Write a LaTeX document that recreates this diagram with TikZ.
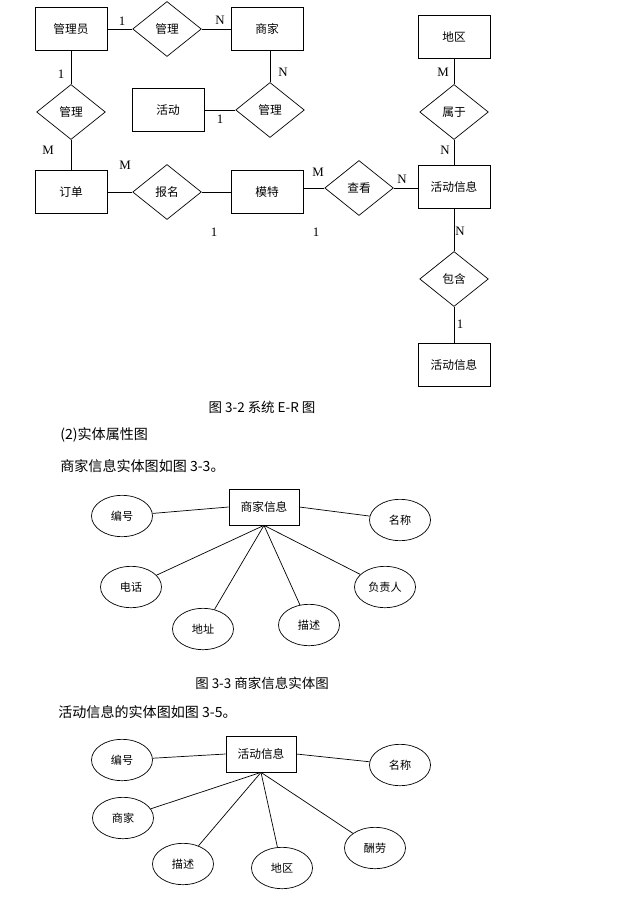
\documentclass[tikz,border=0pt]{standalone}
\usepackage{fontspec}
\setmainfont{Noto Sans CJK SC}
\newfontfamily\cardfont{Liberation Serif}
\usetikzlibrary{shapes.geometric}

\tikzset{
  ent/.style={draw, rectangle, minimum width=2.16cm, minimum height=1.29cm, inner sep=0pt, font=\fontsize{10}{12}\selectfont},
  rel/.style={draw, diamond, minimum width=2.06cm, minimum height=1.65cm, inner sep=0pt, font=\fontsize{10}{12}\selectfont},
  card/.style={inner sep=0pt, font=\cardfont\fontsize{11}{13}\selectfont},
  sub/.style={draw, rectangle, minimum width=2.1cm, minimum height=1.08cm, inner sep=0pt, font=\fontsize{10}{12}\selectfont},
  attr/.style={draw, ellipse, minimum width=1.83cm, minimum height=1.24cm, inner sep=0pt, font=\fontsize{9.5}{11}\selectfont},
  txt/.style={anchor=west, inner sep=0pt, font=\fontsize{12}{14}\selectfont},
  figcap/.style={inner sep=0pt, font=\fontsize{11.5}{13}\selectfont},
}

\begin{document}
\begin{tikzpicture}[x=0.03cm, y=-0.03cm, line width=0.6pt]
\useasboundingbox (0,0) rectangle (616,900);

% E-R diagram
\node [ent] (admin) at (71,29) {管理员};
\node [rel] (mgA) at (167,29) {管理};
\node [ent] (shop) at (267,29) {商家};
\node [rel] (mgB) at (270,110) {管理};
\node [ent] (act) at (168,110) {活动};
\node [rel] (mgC) at (71,112) {管理};
\node [ent] (order) at (71,192) {订单};
\node [rel] (sign) at (167,192) {报名};
\node [ent] (model) at (267,192) {模特};
\node [rel] (view) at (359,188) {查看};
\node [ent] (info) at (454,187) {活动信息};
\node [ent] (area) at (454,37) {地区};
\node [rel] (belong) at (454,112) {属于};
\node [rel] (incl) at (454,279) {包含};
\node [ent] (info2) at (454,365) {活动信息};

\draw (admin.east) -- (mgA.west);
\draw (mgA.east) -- (shop.west);
\draw (shop.south -| mgB.north) -- (mgB.north);
\draw (act.east) -- (mgB.west);
\draw (admin.south) -- (mgC.north);
\draw (mgC.south) -- (order.north);
\draw (order.east) -- (sign.west);
\draw (sign.east) -- (model.west);
\draw (model.east |- view.west) -- (view.west);
\draw (view.east) -- (view.east -| info.west);
\draw (area.south) -- (belong.north);
\draw (belong.south) -- (info.north);
\draw (info.south) -- (incl.north);
\draw (incl.south) -- (info2.north);

\node [card] (c1) at (122,21) {1};
\node [card] (c2) at (220,20) {N};
\node [card] (c3) at (283,72) {N};
\node [card] (c4) at (220,119) {1};
\node [card] (c5) at (61,74) {1};
\node [card] (c6) at (48,150) {M};
\node [card] (c7) at (125,165) {M};
\node [card] (c8) at (214,232) {1};
\node [card] (c9) at (316,232) {1};
\node [card] (c10) at (318,172) {M};
\node [card] (c11) at (402,179) {N};
\node [card] (c12) at (443,72) {M};
\node [card] (c13) at (445,150) {N};
\node [card] (c14) at (460,231) {N};
\node [card] (c15) at (460,324) {1};

\node [figcap] (capA) at (262,407) {图 3-2 系统 E-R 图};
\node [txt] (head) at (60,435) {(2)实体属性图};
\node [txt] (textA) at (60,466) {商家信息实体图如图 3-3。};

% merchant entity
\node [sub] (shopinfo) at (264,507) {商家信息};
\node [attr] (sNo) at (122,516) {编号};
\node [attr] (sName) at (400,520) {名称};
\node [attr] (sTel) at (131,587) {电话};
\node [attr] (sAddr) at (203,629) {地址};
\node [attr] (sDesc) at (309,625) {描述};
\node [attr] (sBoss) at (385,587) {负责人};

\draw (sNo) -- (shopinfo.west);
\draw (shopinfo.east) -- (sName);
\draw (shopinfo.south) -- (sTel);
\draw (shopinfo.south) -- (sAddr);
\draw (shopinfo.south) -- (sDesc);
\draw (shopinfo.south) -- (sBoss);

\node [figcap] (capB) at (262,683) {图 3-3 商家信息实体图};
\node [txt] (textB) at (58,712) {活动信息的实体图如图 3-5。};

% activity entity
\node [sub] (actinfo) at (261,754) {活动信息};
\node [attr] (aNo) at (122,760) {编号};
\node [attr] (aName) at (400,765) {名称};
\node [attr] (aShop) at (123,818) {商家};
\node [attr] (aDesc) at (183,864) {描述};
\node [attr] (aArea) at (282,868) {地区};
\node [attr] (aPay) at (375,848) {酬劳};

\draw (aNo) -- (actinfo.west);
\draw (actinfo.east) -- (aName);
\draw (actinfo.south) -- (aShop);
\draw (actinfo.south) -- (aDesc);
\draw (actinfo.south) -- (aArea);
\draw (actinfo.south) -- (aPay);

\end{tikzpicture}
\end{document}
